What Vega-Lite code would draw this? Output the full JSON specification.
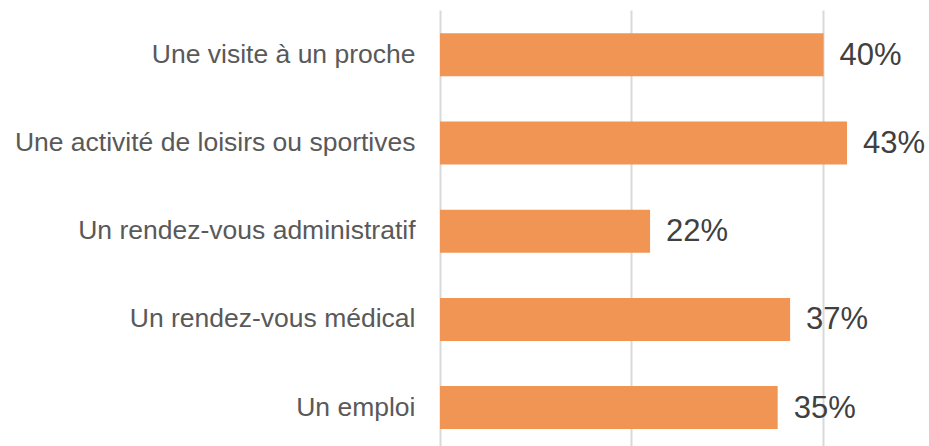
{
  "$schema": "https://vega.github.io/schema/vega-lite/v6.json",
  "autosize": {"type": "none"},
  "padding": {"left": 440, "top": 10, "right": 0, "bottom": 0},
  "width": 489,
  "height": 436,
  "background": "white",
  "config": {"view": {"stroke": null}, "font": "Liberation Sans"},
  "data": {
    "values": [
      {"categorie": "Une visite à un proche", "valeur": 40.1, "label": "40%"},
      {"categorie": "Une activité de loisirs ou sportives", "valeur": 42.55, "label": "43%"},
      {"categorie": "Un rendez-vous administratif", "valeur": 21.96, "label": "22%"},
      {"categorie": "Un rendez-vous médical", "valeur": 36.6, "label": "37%"},
      {"categorie": "Un emploi", "valeur": 35.3, "label": "35%"}
    ]
  },
  "encoding": {
    "y": {
      "field": "categorie",
      "type": "nominal",
      "sort": null,
      "scale": {"paddingInner": 0.5125, "paddingOuter": 0.228, "align": 0.58},
      "axis": {
        "title": null,
        "domain": false,
        "ticks": false,
        "labelPadding": 25,
        "labelFontSize": 26.5,
        "labelColor": "#595959",
        "labelLimit": 500,
        "labelFont": "Liberation Sans"
      }
    },
    "x": {
      "field": "valeur",
      "type": "quantitative",
      "scale": {"domain": [0, 51.12], "nice": false, "zero": true},
      "axis": {
        "title": null,
        "values": [0, 20, 40],
        "labels": false,
        "ticks": false,
        "domain": false,
        "grid": true,
        "gridColor": "#D9D9D9",
        "gridWidth": 2
      }
    }
  },
  "layer": [
    {"mark": {"type": "bar", "color": "#F09554"}},
    {
      "mark": {"type": "text", "align": "left", "baseline": "middle", "dx": 16, "dy": 1, "fontSize": 31, "color": "#404040", "font": "Liberation Sans"},
      "encoding": {"text": {"field": "label"}}
    }
  ]
}
